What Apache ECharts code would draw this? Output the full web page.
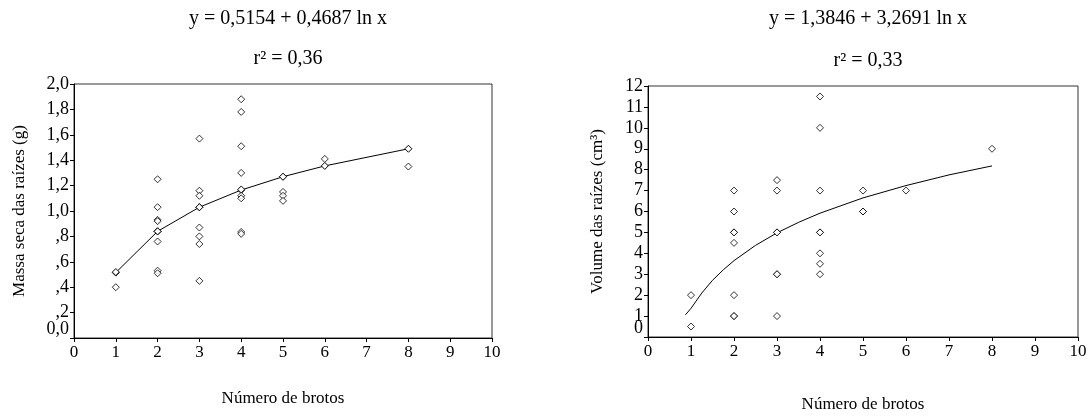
<!DOCTYPE html>
<html>
<head>
<meta charset="utf-8">
<script src="https://cdn.jsdelivr.net/npm/echarts@6/dist/echarts.min.js"></script>
<style>
html,body{margin:0;padding:0;background:#fff;}
#chart{width:1092px;height:418px;}
</style>
</head>
<body>
<div id="chart"></div>
<script>
// ---- Data ----
var titlesLeft = ['y = 0,5154 + 0,4687 ln x', 'r² = 0,36'];
var titlesRight = ['y = 1,3846 + 3,2691 ln x', 'r² = 0,33'];
var xName = 'Número de brotos';
var yNameLeft = 'Massa seca das raízes (g)';
var yNameRight = 'Volume das raízes (cm³)';
var zeroLabels = ['0,0', '0'];

// Left: dry root mass (g) vs number of shoots
var massaX = [1,1, 2,2,2,2,2,2,2,2,2, 3,3,3,3,3,3,3,3,3, 4,4,4,4,4,4,4,4,4, 5,5,5,5, 6, 8];
var massaY = [0.52,0.40, 1.25,1.03,0.93,0.92,0.84,0.84,0.76,0.53,0.51,
              1.57,1.16,1.12,1.03,1.03,0.87,0.80,0.74,0.45,
              1.88,1.78,1.51,1.30,1.17,1.12,1.10,0.835,0.82,
              1.27,1.15,1.12,1.08, 1.41, 1.35];
var massaFitX = [1, 2, 3, 4, 5, 6, 8];
var massaFitY = [0.515, 0.84, 1.03, 1.165, 1.27, 1.355, 1.49];

// Right: root volume (cm³) vs number of shoots
var volX = [1,1, 2,2,2,2,2,2,2,2, 3,3,3,3,3,3,3, 4,4,4,4,4,4,4,4, 5,5,5, 6, 8];
var volY = [2,0.5, 7,6,5,5,4.5,2,1,1, 7.5,7,5,5,3,3,1, 11.5,10,7,5,5,4,3.5,3, 7,6,6, 7, 9];
var volFitX = [0.87, 1, 1.25, 1.5, 1.75, 2, 2.5, 3, 3.5, 4, 5, 6, 7, 8];
var volFitY = [1.06, 1.37, 2.1, 2.71, 3.21, 3.65, 4.38, 4.98, 5.48, 5.92, 6.65, 7.24, 7.75, 8.18];

// ---- Helpers ----
function pairs(xs, ys){ return xs.map(function(x,i){ return [x, ys[i]]; }); }
var FONT = 'Liberation Serif';

function fmtMass(v){
  if (Math.abs(v) < 1e-9) return '';
  var s = v.toFixed(1).replace('.', ',');
  if (v < 1) s = s.substring(1);
  return s;
}
function fmtVol(v){
  if (Math.abs(v) < 1e-9) return '';
  return String(v);
}
function xAxisCfg(gi, gap){
  return {
    gridIndex: gi, type: 'value', min: 0, max: 10, interval: 1,
    name: xName, nameLocation: 'middle', nameGap: gap,
    nameTextStyle: {fontFamily: FONT, fontSize: 17, color: '#000'},
    axisLine: {show: true, lineStyle: {color: '#000', width: 1}},
    axisTick: {show: true, inside: false, length: 4, lineStyle: {color: '#000'}},
    axisLabel: {fontFamily: FONT, fontSize: 17, color: '#000', margin: 6, showMinLabel: true, showMaxLabel: true},
    splitLine: {show: false}
  };
}
function yAxisCfg(gi, max, interval, fmt, name, gap){
  return {
    gridIndex: gi, type: 'value', min: 0, max: max, interval: interval,
    name: name, nameLocation: 'middle', nameGap: gap,
    nameTextStyle: {fontFamily: FONT, fontSize: 17, color: '#000'},
    axisLine: {show: true, lineStyle: {color: '#000', width: 1}},
    axisTick: {show: true, inside: false, length: 4, lineStyle: {color: '#000'}},
    axisLabel: {fontFamily: FONT, fontSize: 18, color: '#000', margin: 5,
      showMaxLabel: true, formatter: fmt},
    splitLine: {show: false}
  };
}
var sym = {symbol: 'diamond', symbolSize: 7,
  itemStyle: {color: '#fff', borderColor: '#000', borderWidth: 1}};

var titleStyle = {fontFamily: FONT, fontSize: 20, fontWeight: 'normal', color: '#000'};
var chart = echarts.init(document.getElementById('chart'), null, {renderer: 'canvas'});
chart.setOption({
  animation: false,
  backgroundColor: '#fff',
  title: [
    {text: titlesLeft[0], left: 283, top: 4, textAlign: 'center', textStyle: titleStyle},
    {text: titlesLeft[1], left: 283, top: 44, textAlign: 'center', textStyle: titleStyle},
    {text: titlesRight[0], left: 863, top: 4, textAlign: 'center', textStyle: titleStyle},
    {text: titlesRight[1], left: 863, top: 46, textAlign: 'center', textStyle: titleStyle}
  ],
  grid: [
    {left: 74, top: 84, right: 600, bottom: 80, show: true, borderColor: '#333', borderWidth: 1, backgroundColor: 'transparent'},
    {left: 648, top: 86, right: 14, bottom: 74, show: true, borderColor: '#333', borderWidth: 1, backgroundColor: 'transparent'}
  ],
  xAxis: [xAxisCfg(0, 52), xAxisCfg(1, 59)],
  yAxis: [
    yAxisCfg(0, 2, 0.2, fmtMass, yNameLeft, 46),
    yAxisCfg(1, 12, 1, fmtVol, yNameRight, 42)
  ],
  series: [
    Object.assign({type: 'scatter', xAxisIndex: 0, yAxisIndex: 0, data: pairs(massaX, massaY), z: 3}, sym),
    Object.assign({type: 'line', xAxisIndex: 0, yAxisIndex: 0, data: pairs(massaFitX, massaFitY),
      showSymbol: true, lineStyle: {color: '#000', width: 1}, z: 2}, sym),
    Object.assign({type: 'scatter', xAxisIndex: 1, yAxisIndex: 1, data: pairs(volX, volY), z: 3}, sym),
    {type: 'line', xAxisIndex: 1, yAxisIndex: 1, data: pairs(volFitX, volFitY),
      showSymbol: false, symbol: 'none', lineStyle: {color: '#000', width: 1}, z: 2}
  ]
});

// Zero tick labels: the original draws them slightly raised above the axis corner
var zeroGraphics = [0, 1].map(function(gi){
  var p = chart.convertToPixel({gridIndex: gi}, [0, 0]);
  return {
    type: 'text', x: p[0] - 5, y: p[1] - 9, z: 10,
    style: {text: zeroLabels[gi], fontFamily: FONT, fontSize: 18, fill: '#000',
            textAlign: 'right', textVerticalAlign: 'middle'}
  };
});
chart.setOption({graphic: zeroGraphics});
</script>
</body>
</html>
